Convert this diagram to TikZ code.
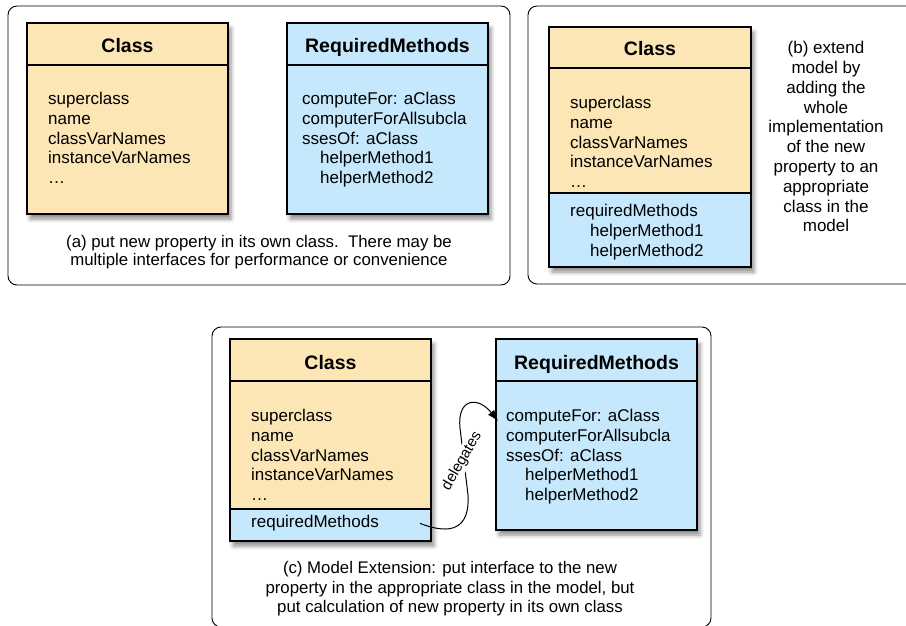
\documentclass[tikz,border=0pt]{standalone}
\usepackage{fontspec}
\setmainfont{Liberation Sans}
\usetikzlibrary{positioning,shadows.blur,arrows.meta}
\definecolor{class tan}{RGB}{253,230,181}
\definecolor{method blue}{RGB}{198,232,252}

\begin{document}
\begin{tikzpicture}[x=1pt, y=-1pt,
    panel/.style={draw, line width=0.9pt, rounded corners=9pt},
    umlbox/.style={draw, line width=1.3pt, inner sep=0pt, outer sep=0pt,
      anchor=north west, minimum width=201pt},
    shaded/.style={blur shadow={shadow xshift=3pt, shadow yshift=-5pt,
      shadow blur radius=4pt, shadow opacity=45}},
    header/.style={line width=1.3pt},
    title/.style={anchor=base, font=\fontsize{19.5}{22}\selectfont\bfseries},
    entries/.style={anchor=north west, align=left, inner sep=0pt,
      font=\fontsize{17}{19.7}\selectfont},
    caption/.style={anchor=north, align=center, inner sep=0pt,
      font=\fontsize{16.8}{18.4}\selectfont},
  ]
  \useasboundingbox (0,0) rectangle (906,626);
  \clip (0,0) rectangle (906,626);

  % (a) separate class
  \draw [panel] (8,6) rectangle (510,285);
  \node [umlbox, shaded, fill=class tan, minimum height=191pt] (class a) at (27,23) {};
  \node [umlbox, shaded, fill=method blue, minimum height=191pt, right=59pt of class a] (methods a) {};
  \draw [header] ([yshift=-42pt]class a.north west) -- ([yshift=-42pt]class a.north east);
  \draw [header] ([yshift=-42pt]methods a.north west) -- ([yshift=-42pt]methods a.north east);
  \node [title] (class a title) at ([yshift=-30pt]class a.north) {Class};
  \node [title] (methods a title) at ([yshift=-30pt]methods a.north) {RequiredMethods};
  \node [entries] (class a attrs) at ([xshift=21pt, yshift=-69.2pt]class a.north west)
    {superclass\\name\\classVarNames\\instanceVarNames\\…};
  \node [entries] (methods a ops) at ([xshift=15pt, yshift=-69.2pt]methods a.north west)
    {computeFor: aClass\\computerForAllsubcla\\ssesOf: aClass\\
     \hspace*{18pt}helperMethod1\\\hspace*{18pt}helperMethod2};
  \node [caption] (caption a) at (259,235.2)
    {(a) put new property in its own class.\ \ There may be\\
     multiple interfaces for performance or convenience};

  % (b) whole implementation in the model class
  \draw [panel] (528,6) rectangle (925,284);
  \node [umlbox, shaded, fill=class tan, minimum width=202pt, minimum height=240pt] (class b) at (549,27) {};
  \node [umlbox, fill=method blue, minimum width=202pt, minimum height=74pt] (req b) at (549,193) {};
  \draw [header] ([yshift=-41pt]class b.north west) -- ([yshift=-41pt]class b.north east);
  \node [title] (class b title) at ([yshift=-29pt]class b.north) {Class};
  \node [entries] (class b attrs) at ([xshift=21pt, yshift=-69.2pt]class b.north west)
    {superclass\\name\\classVarNames\\instanceVarNames\\…};
  \node [entries] (req b ops) at ([xshift=21pt, yshift=-11.2pt]req b.north west)
    {requiredMethods\\\hspace*{20pt}helperMethod1\\\hspace*{20pt}helperMethod2};
  \node [caption, font=\fontsize{17}{19.8}\selectfont] (caption b) at (826,41.2)
    {(b) extend\\model by\\adding the\\whole\\implementation\\of the new\\
     property to an\\appropriate\\class in the\\model};

  % (c) model extension
  \draw [panel] (212,327) rectangle (711,627);
  \node [umlbox, shaded, fill=class tan, minimum height=202pt] (class c) at (230,339) {};
  \node [umlbox, fill=method blue, minimum height=32pt] (req c) at (230,509) {};
  \node [umlbox, shaded, fill=method blue, minimum height=191pt] (methods c) at (496,339) {};
  \draw [header] ([yshift=-42pt]class c.north west) -- ([yshift=-42pt]class c.north east);
  \draw [header] ([yshift=-42pt]methods c.north west) -- ([yshift=-42pt]methods c.north east);
  \node [title] (class c title) at ([yshift=-30pt]class c.north) {Class};
  \node [title] (methods c title) at ([yshift=-30pt]methods c.north) {RequiredMethods};
  \node [entries] (class c attrs) at ([xshift=21pt, yshift=-70.2pt]class c.north west)
    {superclass\\name\\classVarNames\\instanceVarNames\\…};
  \node [entries] (req c text) at ([xshift=21pt, yshift=-6.2pt]req c.north west)
    {requiredMethods};
  \node [entries] (methods c ops) at ([xshift=10pt, yshift=-70.2pt]methods c.north west)
    {computeFor: aClass\\computerForAllsubcla\\ssesOf: aClass\\
     \hspace*{19pt}helperMethod1\\\hspace*{19pt}helperMethod2};
  \node [caption, font=\fontsize{16.8}{19.5}\selectfont] (caption c) at (450,561.2)
    {(c) Model Extension: put interface to the new\\
     property in the appropriate class in the model, but\\
     put calculation of new property in its own class};

  % delegation arrow
  \coordinate (deleg start) at ([xshift=41pt]req c text.east);
  \coordinate (deleg end) at ([xshift=2pt, yshift=-82pt]methods c.north west);
  \draw [line width=1pt, -{Latex[length=11pt, width=8pt]}]
    (deleg start)
    .. controls (452,536) and (470,528) .. (468,495)
    -- (460,428)
    .. controls (457,398) and (478,396) .. (deleg end)
  ;
  \node [rotate=60, fill=white, inner sep=1.5pt, font=\fontsize{15}{15}\selectfont]
    (deleg label) at (462,461) {delegates};
\end{tikzpicture}
\end{document}
